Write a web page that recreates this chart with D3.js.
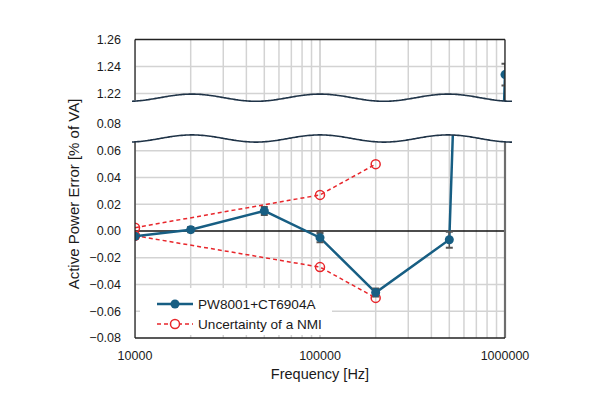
<!DOCTYPE html>
<html>
<head>
<meta charset="utf-8">
<script src="https://cdn.jsdelivr.net/npm/d3@7"></script>
<style>
  body { margin: 0; background: #fff; }
  text { font-family: "Liberation Sans", Arial, sans-serif; fill: #1a1a1a; }
</style>
</head>
<body>
<svg id="chart" width="590" height="393"></svg>
<script>
// data
var freqs = [10000, 20000, 50000, 100000, 200000, 500000, 1000000];
var pwErr = [-0.004, 0.001, 0.015, -0.005, -0.046, -0.0065, 1.234];
var pwUnc = [0.002, 0.002, 0.003, 0.0035, 0.003, 0.006, 0.008];
var nmiFreq = [10000, 100000, 200000];
var nmiUpper = [0.0025, 0.027, 0.050];
var nmiLower = [-0.0035, -0.027, -0.050];
var xTicks = [10000, 100000, 1000000];
var yTicksLow = [-0.08, -0.06, -0.04, -0.02, 0, 0.02, 0.04, 0.06, 0.08];
var yTicksHigh = [1.22, 1.24, 1.26];
var seriesNames = ["PW8001+CT6904A", "Uncertainty of a NMI"];

var blue = "#175e83", red = "#e8262b", grid = "#d3d3d3";

var svg = d3.select("#chart");
var plotLeft = 135, plotRight = 505, plotTop = 39.5, plotBottom = 338;

var x = d3.scaleLog().domain([10000, 1000000]).range([plotLeft, plotRight]);
var yLow = d3.scaleLinear().domain([-0.08, 0.08]).range([plotBottom, 124]);
var yHigh = d3.scaleLinear().domain([1.22, 1.26]).range([93.5, plotTop]);

// wavy break lines
function wave(mid) {
    return d3.range(132, 513, 2).map(function (px) {
        return [px, mid - 3.6 * Math.cos(2 * Math.PI * (px - 192) / 128)];
    });
}
var waveTop = wave(97.7), waveBot = wave(138.5);

function clampX(px) { return Math.min(Math.max(px, plotLeft), plotRight); }

var defs = svg.append("defs");
defs.append("clipPath").attr("id", "clipHigh").append("path")
    .attr("d", "M" + plotLeft + "," + plotTop + "L" + plotRight + "," + plotTop +
        waveTop.slice().reverse().map(function (p) { return "L" + clampX(p[0]) + "," + p[1]; }).join("") + "Z");
defs.append("clipPath").attr("id", "clipLow").append("path")
    .attr("d", "M" + waveBot.map(function (p) { return clampX(p[0]) + "," + p[1]; }).join("L") +
        "L" + plotRight + "," + plotBottom + "L" + plotLeft + "," + plotBottom + "Z");

var minor = [];
[10000, 100000].forEach(function (dec) {
    for (var k = 1; k <= 10; k++) minor.push(dec * k);
});

function panel(y, clipId, hTicks) {
    var g = svg.append("g").attr("clip-path", "url(#" + clipId + ")");
    g.selectAll(".vg").data(minor).enter().append("line")
        .attr("x1", function (d) { return x(d); }).attr("x2", function (d) { return x(d); })
        .attr("y1", 0).attr("y2", 393)
        .attr("stroke", grid).attr("stroke-width", 1.5);
    g.selectAll(".hg").data(hTicks).enter().append("line")
        .attr("x1", plotLeft).attr("x2", plotRight)
        .attr("y1", function (d) { return y(d); }).attr("y2", function (d) { return y(d); })
        .attr("stroke", function (d) { return d === 0 ? "#111" : grid; })
        .attr("stroke-width", function (d) { return d === 0 ? 1.3 : 1.5; });
    return g;
}

var gHigh = panel(yHigh, "clipHigh", [1.22, 1.24]);
var gLow = panel(yLow, "clipLow", [-0.06, -0.04, -0.02, 0, 0.02, 0.04, 0.06]);

// legend box hides the grid beneath it
gLow.append("rect").attr("x", 140).attr("y", 288).attr("width", 192).attr("height", 47).attr("fill", "#fff");

function series(g, y) {
    var line = d3.line().x(function (d) { return x(d[0]); }).y(function (d) { return y(d[1]); });
    [nmiUpper, nmiLower].forEach(function (vals) {
        var pts = nmiFreq.map(function (f, i) { return [f, vals[i]]; });
        g.append("path").attr("d", line(pts)).attr("fill", "none")
            .attr("stroke", red).attr("stroke-width", 1.5).attr("stroke-dasharray", "4,3");
        g.selectAll(null).data(pts).enter().append("circle")
            .attr("cx", function (d) { return x(d[0]); }).attr("cy", function (d) { return y(d[1]); })
            .attr("r", 4.5).attr("fill", "none").attr("stroke", red).attr("stroke-width", 1.5);
    });

    var pts = freqs.map(function (f, i) { return [f, pwErr[i], pwUnc[i]]; });
    g.append("path").attr("d", line(pts)).attr("fill", "none")
        .attr("stroke", blue).attr("stroke-width", 2.5);
    var eb = g.selectAll(null).data(pts).enter().append("g").attr("stroke", "#555").attr("stroke-width", 1.5);
    eb.append("line")
        .attr("x1", function (d) { return x(d[0]); }).attr("x2", function (d) { return x(d[0]); })
        .attr("y1", function (d) { return y(d[1] - d[2]); }).attr("y2", function (d) { return y(d[1] + d[2]); });
    [-1, 1].forEach(function (s) {
        eb.append("line")
            .attr("x1", function (d) { return x(d[0]) - 3.5; }).attr("x2", function (d) { return x(d[0]) + 3.5; })
            .attr("y1", function (d) { return y(d[1] + s * d[2]); }).attr("y2", function (d) { return y(d[1] + s * d[2]); })
            .attr("stroke-width", 2);
    });
    g.selectAll(null).data(pts).enter().append("circle")
        .attr("cx", function (d) { return x(d[0]); }).attr("cy", function (d) { return y(d[1]); })
        .attr("r", 4.5).attr("fill", blue);
}
series(gHigh, yHigh);
series(gLow, yLow);

// frame
function frame(x1, y1, x2, y2, col, w) {
    svg.append("line").attr("x1", x1).attr("y1", y1).attr("x2", x2).attr("y2", y2)
        .attr("stroke", col).attr("stroke-width", w);
}
frame(plotLeft, plotTop, plotRight, plotTop, "#222", 1.3);
frame(plotLeft, plotTop, plotLeft, 100, "#222", 1.3);
frame(plotRight, plotTop, plotRight, 101, "#222", 1.3);
frame(plotLeft, 142, plotLeft, plotBottom, "#222", 1.3);
frame(plotRight, 142, plotRight, plotBottom, "#6e6e6e", 2.2);
frame(plotLeft, plotBottom, plotRight, plotBottom, "#222", 1.3);

var waveLine = d3.line().curve(d3.curveBasis);
[waveTop, waveBot].forEach(function (w) {
    svg.append("path").attr("d", waveLine(w)).attr("fill", "none")
        .attr("stroke", "#1f3347").attr("stroke-width", 1.6);
});

// tick labels
svg.selectAll(".yl").data(yTicksLow).enter().append("text")
    .attr("x", 121).attr("y", function (d) { return yLow(d); }).attr("dy", "0.35em")
    .attr("text-anchor", "end").attr("font-size", "12.5px")
    .text(function (d) { return d3.format(".2f")(d); });
svg.selectAll(".yh").data(yTicksHigh).enter().append("text")
    .attr("x", 121).attr("y", function (d) { return yHigh(d); }).attr("dy", "0.35em")
    .attr("text-anchor", "end").attr("font-size", "12.5px")
    .text(function (d) { return d3.format(".2f")(d); });
svg.selectAll(".xl").data(xTicks).enter().append("text")
    .attr("x", function (d) { return x(d); }).attr("y", 356).attr("dy", "0.35em")
    .attr("text-anchor", "middle").attr("font-size", "12.5px")
    .text(function (d) { return d; });

svg.append("text").attr("x", 320).attr("y", 374).attr("dy", "0.35em")
    .attr("text-anchor", "middle").attr("font-size", "14.5px").text("Frequency [Hz]");
svg.append("text").attr("transform", "translate(74,194) rotate(-90)").attr("dy", "0.35em")
    .attr("text-anchor", "middle").attr("font-size", "15px").text("Active Power Error [% of VA]");

// legend
var leg = svg.append("g");
leg.append("line").attr("x1", 157).attr("x2", 193).attr("y1", 304).attr("y2", 304)
    .attr("stroke", blue).attr("stroke-width", 2.5);
leg.append("circle").attr("cx", 175).attr("cy", 304).attr("r", 4.5).attr("fill", blue);
leg.append("line").attr("x1", 157).attr("x2", 193).attr("y1", 324).attr("y2", 324)
    .attr("stroke", red).attr("stroke-width", 1.5).attr("stroke-dasharray", "4,3");
leg.append("circle").attr("cx", 175).attr("cy", 324).attr("r", 4.5).attr("fill", "#fff")
    .attr("stroke", red).attr("stroke-width", 1.5);
leg.selectAll("text").data(seriesNames).enter().append("text")
    .attr("x", 198).attr("y", function (d, i) { return 304 + i * 20; }).attr("dy", "0.35em")
    .attr("font-size", "13.6px").text(function (d) { return d; });
</script>
</body>
</html>
